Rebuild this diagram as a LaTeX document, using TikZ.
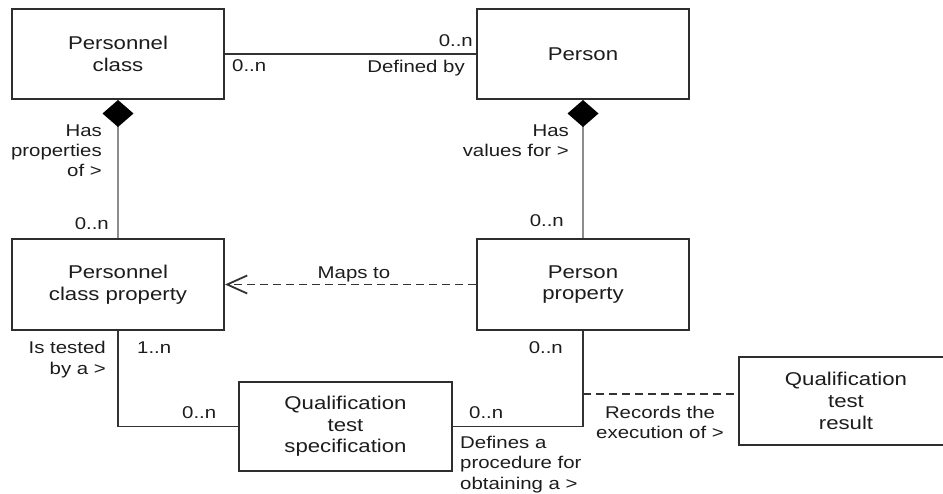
\documentclass[tikz,border=0pt]{standalone}
\usepackage{fontspec}
\setmainfont{Liberation Sans}[FakeStretch=1.2]
\usetikzlibrary{arrows.meta}

\definecolor{txt}{HTML}{1C1C1C}
\definecolor{boxline}{HTML}{2E2E2E}
\definecolor{linkc}{HTML}{333333}
\definecolor{compc}{HTML}{8C8C8C}

\newcommand\boxfont{\fontsize{18.5}{21.7}\selectfont}
\newcommand\lblfont{\fontsize{17}{20.3}\selectfont}

\tikzset{
  cls/.style={draw=boxline, line width=2pt, minimum width=212pt, minimum height=90pt,
    align=center, font=\boxfont, inner sep=0pt, text=txt},
  lbl/.style={font=\lblfont, inner sep=0pt, text=txt},
  link/.style={draw=linkc, line width=1.8pt},
  comp/.style={draw=compc, line width=1.9pt,
    {Diamond[length=27pt,width=31pt,color=black,fill=black]}-},
  dep/.style={draw=linkc, line width=1.8pt, dash pattern=on 8pt off 5pt},
}

\begin{document}
\begin{tikzpicture}[x=1pt, y=-1pt]
  \useasboundingbox (0,0) rectangle (943,494);

  % classes
  \node[cls] (pc) at (118,54) {Personnel\\class};
  \node[cls] (p) at (583,54) {Person};
  \node[cls, minimum height=91pt] (pcp) at (118,284.5) {Personnel\\class property};
  \node[cls, minimum height=91pt] (pp) at (583,284.5) {Person\\property};
  \node[cls, minimum width=213pt, minimum height=89pt] (qts) at (345.5,426.5)
    {Qualification\\test\\specification};
  \node[cls, minimum width=214pt, minimum height=88pt] (qtr) at (846,401)
    {Qualification\\test\\result};

  % associations
  \draw[link] (pc.east) -- (p.west);
  \draw[comp] (pc.south) -- (pcp.north);
  \draw[comp] (p.south) -- (pp.north);
  \draw[dep, -{Straight Barb[length=20pt,width=18pt]}] (pp.west) -- (pcp.east);
  \draw[link] (pcp.south) |- (qts.west);
  \draw[link] (qts.east) -| (pp.south);
  \coordinate (recy) at (0,394);
  \coordinate (rec) at (pp.south |- recy);
  \draw[dep] (rec) -- (qtr.west |- rec);

  % multiplicities and role labels (multi-line labels sit on their last line)
  \node[lbl, anchor=base west] (m1) at (232,71.7) {0..n};
  \node[lbl, anchor=base east] (m2) at (473,46.7) {0..n};
  \node[lbl, anchor=base east] (r1) at (465,73) {Defined by};
  \node[lbl, anchor=base east, align=right] (r2) at (102,176.7) {Has\\properties\\of >};
  \node[lbl, anchor=base east] (m3) at (109,230) {0..n};
  \node[lbl, anchor=base east, align=right] (r3) at (569,156.7) {Has\\values for >};
  \node[lbl, anchor=base east] (m4) at (564,226.7) {0..n};
  \node[lbl, anchor=base] (r4) at (354,278.3) {Maps to};
  \node[lbl, anchor=base east, align=right] (r5) at (106,374) {Is tested\\by a >};
  \node[lbl, anchor=base west] (m5) at (137,354) {1..n};
  \node[lbl, anchor=base west] (m6) at (182,418.3) {0..n};
  \node[lbl, anchor=base west] (m7) at (469,418.3) {0..n};
  \node[lbl, anchor=base east] (m8) at (563,354) {0..n};
  \node[lbl, anchor=base west, align=left] (r6) at (460,489) {Defines a\\procedure for\\obtaining a >};
  \node[lbl, anchor=base, align=center] (r7) at (660,438.3) {Records the\\execution of >};
\end{tikzpicture}
\end{document}
